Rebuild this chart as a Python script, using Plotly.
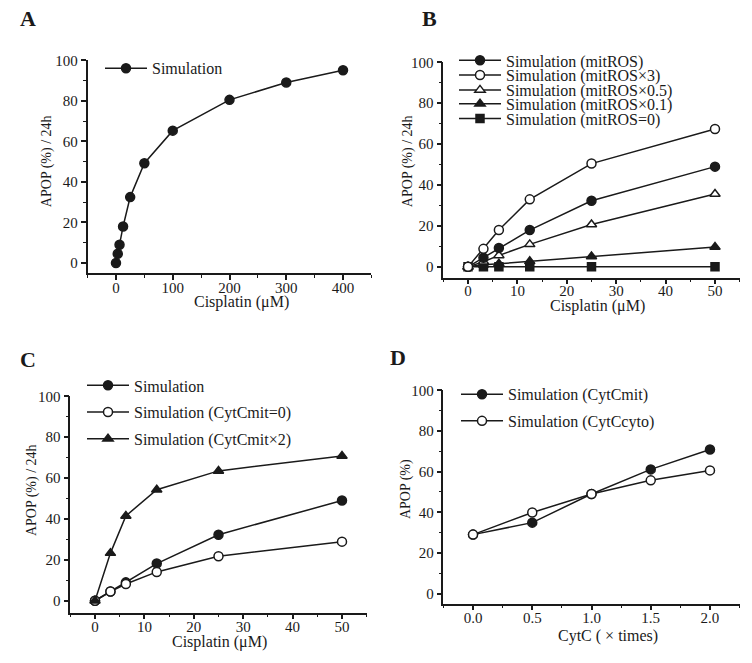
import plotly.graph_objects as go

W, H = 752, 663
FONT = "Liberation Serif, Times New Roman, serif"
INK = "#1a1a1a"

# ---------------- data ----------------
# Panel A
a_x = [0, 3.125, 6.25, 12.5, 25, 50, 100, 200, 300, 400]
a_sim = [0, 4.5, 9, 18, 32.5, 49.2, 65.3, 80.5, 89.1, 95.1]

# Panel B
b_x = [0, 3.125, 6.25, 12.5, 25, 50]
b_mitros = [0, 4.5, 9.2, 18, 32.3, 49]
b_mitros_x3 = [0, 8.8, 18, 33, 50.5, 67.4]
b_mitros_x05 = [0, 2.5, 5.6, 11, 20.7, 35.6]
b_mitros_x01 = [0, 1, 1.5, 2.7, 5.1, 9.7]
b_mitros_0 = [0, 0, 0, 0, 0, 0]

# Panel C
c_x = [0, 3.125, 6.25, 12.5, 25, 50]
c_sim = [0, 4.5, 9, 18.2, 32.3, 49]
c_cytcmit_0 = [0, 4.5, 8.2, 14.1, 21.8, 28.9]
c_cytcmit_x2 = [0, 23.3, 41.5, 54.3, 63.5, 70.8]

# Panel D
d_x = [0, 0.5, 1.0, 1.5, 2.0]
d_cytcmit = [29, 34.9, 49, 61.1, 70.9]
d_cytccyto = [29, 39.9, 49, 55.7, 60.6]

# ---------------- helpers ----------------
def fx(px):
    return px / W

def fy(py):
    return 1 - py / H

fig = go.Figure()

def add(x, y, name, symbol, filled, xa, ya, legend, size=9):
    fig.add_trace(go.Scatter(
        x=x, y=y, name=name, mode="lines+markers",
        xaxis=xa, yaxis=ya, legend=legend,
        line=dict(color=INK, width=1.5),
        marker=dict(symbol=symbol, size=size,
                    color=INK if filled else "white",
                    line=dict(color=INK, width=1.5)),
        showlegend=True,
    ))

add(a_x, a_sim, "Simulation", "circle", True, "x", "y", "legend")

add(b_x, b_mitros_0, "Simulation (mitROS=0)", "square", True, "x2", "y2", "legend6", 8)
add(b_x, b_mitros_x01, "Simulation (mitROS×0.1)", "triangle-up", True, "x2", "y2", "legend5")
add(b_x, b_mitros_x05, "Simulation (mitROS×0.5)", "triangle-up", False, "x2", "y2", "legend4")
add(b_x, b_mitros, "Simulation (mitROS)", "circle", True, "x2", "y2", "legend2")
add(b_x, b_mitros_x3, "Simulation (mitROS×3)", "circle", False, "x2", "y2", "legend3")

add(c_x, c_sim, "Simulation", "circle", True, "x3", "y3", "legend7")
add(c_x, c_cytcmit_0, "Simulation (CytCmit=0)", "circle", False, "x3", "y3", "legend8")
add(c_x, c_cytcmit_x2, "Simulation (CytCmit×2)", "triangle-up", True, "x3", "y3", "legend9")

add(d_x, d_cytcmit, "Simulation (CytCmit)", "circle", True, "x4", "y4", "legend10")
add(d_x, d_cytccyto, "Simulation (CytCcyto)", "circle", False, "x4", "y4", "legend11")

def axis(domain, rng, dtick, minor_dtick, anchor, fmt=None, standoff=0):
    d = dict(domain=domain, range=rng, dtick=dtick, tick0=0, anchor=anchor,
             showline=True, linecolor=INK, linewidth=1.5,
             ticks="outside", ticklen=5, tickwidth=1.5, tickcolor=INK,
             showgrid=False, zeroline=False,
             tickfont=dict(family=FONT, size=15, color=INK),
             ticklabelstandoff=standoff,
             minor=dict(ticks="outside", ticklen=3, tickwidth=1.2,
                        tickcolor=INK, dtick=minor_dtick, tick0=0, showgrid=False))
    if fmt:
        d["tickformat"] = fmt
    return d

layout = dict(
    width=W, height=H, margin=dict(l=0, r=0, t=0, b=0),
    paper_bgcolor="white", plot_bgcolor="white",
    font=dict(family=FONT, size=15, color=INK),
    xaxis=axis([fx(87.6), fx(371.4)], [-50, 450], 100, 50, "y", standoff=-5),
    yaxis=axis([fy(268.3), fy(53)], [-5, 100], 20, 10, "x"),
    xaxis2=axis([fx(443.3), fx(739.7)], [-5, 55], 10, 5, "y2", standoff=-6),
    yaxis2=axis([fy(273), fy(55)], [-5.3, 100], 20, 10, "x2"),
    xaxis3=axis([fx(70.3), fx(366.7)], [-5, 55], 10, 5, "y3", standoff=-5),
    yaxis3=axis([fy(612), fy(393)], [-5.8, 100], 20, 10, "x3"),
    xaxis4=axis([fx(443.4), fx(739.6)], [-0.25, 2.25], 0.5, 0.25, "y4", ".1f", standoff=-5),
    yaxis4=axis([fy(603), fy(387)], [-5.0, 100], 20, 10, "x4"),
)

# legends: one per entry, placed at (line start x, centre y)
leg_pos = {
    "legend": (107, 61),
    "legend2": (461, 53), "legend3": (461, 68), "legend4": (461, 83),
    "legend5": (461, 97), "legend6": (461, 112),
    "legend7": (89, 382), "legend8": (89, 409), "legend9": (89, 436),
    "legend10": (463, 391), "legend11": (463, 418),
}
for key, (lx, ly) in leg_pos.items():
    layout[key] = dict(x=fx(lx - 7), y=fy(ly), xanchor="left", yanchor="middle",
                       bgcolor="rgba(0,0,0,0)", borderwidth=0, itemwidth=42,
                       font=dict(family=FONT, size=16, color=INK),
                       itemclick=False, itemdoubleclick=False)

fig.update_layout(**layout)

ann = []
def text(x, y, s, size=15, bold=False, angle=0):
    ann.append(dict(x=fx(x), y=fy(y), xref="paper", yref="paper", text=("<b>%s</b>" % s) if bold else s,
                    showarrow=False, textangle=angle, xanchor="center", yanchor="middle",
                    font=dict(family=FONT, size=size, color=INK)))

# panel letters
text(28, 11, "A", 22, True)
text(429, 11, "B", 22, True)
text(28, 356, "C", 22, True)
text(398, 354, "D", 22, True)
# axis titles
text(47, 155, "APOP (%) / 24h", 14, angle=-90)
text(242, 298, "Cisplatin (μM)", 16)
text(408, 155, "APOP (%) / 24h", 14, angle=-90)
text(597, 302, "Cisplatin (μM)", 16)
text(32, 488, "APOP (%) / 24h", 14, angle=-90)
text(219, 642, "Cisplatin (μM)", 16)
text(406, 487, "APOP (%)", 14, angle=-90)
text(608, 636, "CytC ( × times)", 16)
fig.update_layout(annotations=ann)

fig.write_html("out.html", config={"displayModeBar": False},
               post_script="document.body.style.margin='0';")
